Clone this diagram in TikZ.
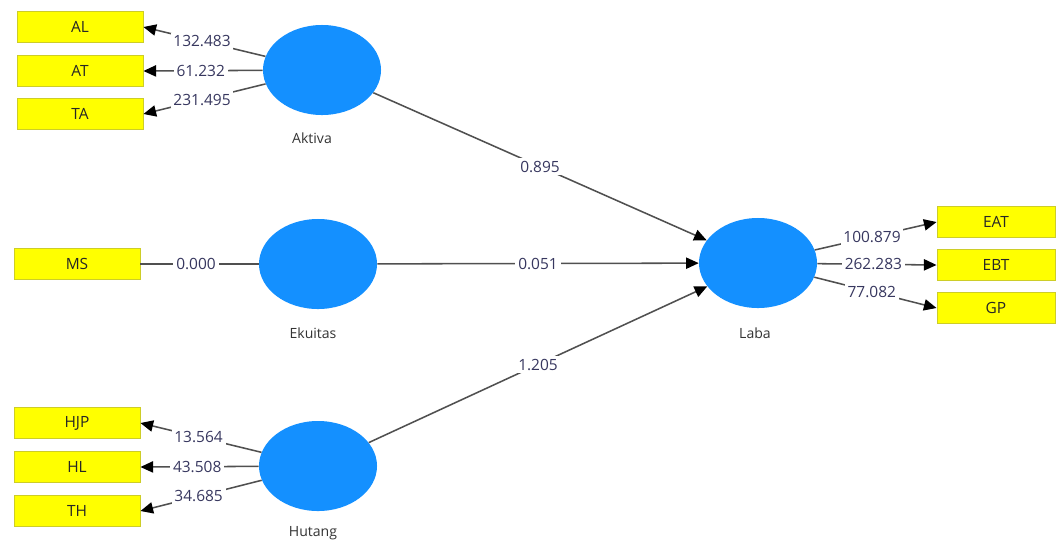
\documentclass[tikz,border=0pt]{standalone}
\usepackage{fontspec}
\setmainfont{Open Sans}
\usetikzlibrary{arrows.meta,shapes.geometric}
\definecolor{lvblue}{RGB}{20,144,255}
\definecolor{mvyellow}{RGB}{255,255,0}
\definecolor{mvedge}{RGB}{205,205,40}
\definecolor{edgegray}{RGB}{80,80,80}
\definecolor{numblue}{RGB}{55,55,95}
\begin{document}
\begin{tikzpicture}[x=0.025cm, y=-0.025cm, font=\fontsize{11}{13}\selectfont,
	latent/.style={ellipse, fill=lvblue, minimum width=2.95cm, minimum height=2.25cm, inner sep=0pt},
	manifest/.style={rectangle, fill=mvyellow, draw=mvedge, line width=0.6pt, minimum width=3.15cm, minimum height=0.78cm, inner sep=0pt, text=black!85},
	relarrow/.style={draw=edgegray, line width=1.1pt, -{Triangle[length=9pt,width=8pt,color=black]}},
	noarrow/.style={draw=edgegray, line width=1.1pt},
	coef/.style={fill=white, text=numblue, inner sep=2pt},
	lvname/.style={text=black!80, font=\fontsize{10}{12}\selectfont}]
	\useasboundingbox (0,0) rectangle (1056,541);
	% latent variables
	\node[latent] (akt) at (322,70) {};
	\node[latent] (eku) at (318,264) {};
	\node[latent] (hut) at (318,466) {};
	\node[latent] (lab) at (758,263) {};
	\node[lvname] (aktname) at (312,138) {Aktiva};
	\node[lvname] (ekuname) at (313,333) {Ekuitas};
	\node[lvname] (hutname) at (313,533) {Hutang};
	\node[lvname] (labname) at (755,333) {Laba};
	% indicators
	\foreach \mv/\txt/\x/\y in {al/AL/80/27, at/AT/80/71, ta/TA/80/114, ms/MS/77/264,
		hjp/HJP/77/423, hl/HL/77/467, th/TH/77/511}
		\node[manifest] (\mv) at (\x,\y) {\txt};
	\foreach \mv/\txt/\y in {eat/EAT/222, ebt/EBT/265, gp/GP/308}
		\node[manifest, minimum width=2.95cm] (\mv) at (996,\y) {\txt};
	% loadings
	\foreach \mv/\val in {al/132.483, at/61.232, ta/231.495}
		\draw[relarrow] (akt) -- (\mv.east) node[coef, pos=0.52] {\val};
	\draw[noarrow] (eku) -- (ms) node[coef, pos=0.53] {0.000};
	\foreach \mv/\val in {hjp/13.564, hl/43.508, th/34.685}
		\draw[relarrow] (hut) -- (\mv.east) node[coef, pos=0.52] {\val};
	\foreach \mv/\val in {eat/100.879, ebt/262.283, gp/77.082}
		\draw[relarrow] (lab) -- (\mv.west) node[coef, pos=0.47] {\val};
	% inner model
	\draw[relarrow] (akt) -- (lab) node[coef, midway] {0.895};
	\draw[relarrow] (eku) -- (lab) node[coef, midway] {0.051};
	\draw[relarrow] (hut) -- (lab) node[coef, midway] {1.205};
\end{tikzpicture}
\end{document}
